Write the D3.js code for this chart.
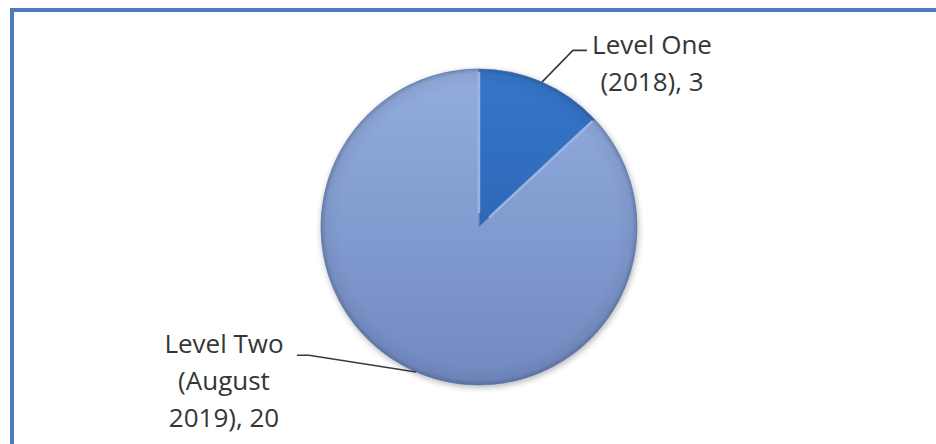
<!DOCTYPE html>
<html>
<head>
<meta charset="utf-8">
<script src="https://cdn.jsdelivr.net/npm/d3@7"></script>
<style>
  body { margin: 0; background: #fff; }
  svg { display: block; }
  .lbl { font-family: "Open Sans", sans-serif; font-size: 26px; fill: #363636; }
</style>
</head>
<body>
<div id="pie_chart"></div>
<script>
// data
const categories = ["Level One", "Level Two"];
const labelLines = [["Level One", "(2018), 3"], ["Level Two", "(August", "2019), 20"]];
const values = [3, 20];

(function pie_chart() {
    const width = 936,
        height = 444,
        cx = 479,
        cy = 227,
        radius = 158;

    const svg = d3.select("#pie_chart")
        .append("svg")
        .attr("width", width)
        .attr("height", height)
        .attr("viewBox", [0, 0, width, height]);

    const defs = svg.append("defs");

    // slice fills, light at top, darker toward bottom (local coords, centre at 0,0)
    const fills = [["#3676ca", "#2659a6"], ["#93addf", "#7189c0"]];
    fills.forEach((f, i) => {
        const g = defs.append("linearGradient")
            .attr("id", "fill" + i)
            .attr("gradientUnits", "userSpaceOnUse")
            .attr("x1", 0).attr("y1", -radius)
            .attr("x2", 0).attr("y2", radius);
        g.append("stop").attr("offset", "0%").attr("stop-color", f[0]);
        g.append("stop").attr("offset", "100%").attr("stop-color", f[1]);
    });

    // bevel rim
    const rim = defs.append("radialGradient")
        .attr("id", "rim")
        .attr("gradientUnits", "userSpaceOnUse")
        .attr("cx", 0).attr("cy", 0).attr("r", radius);
    rim.append("stop").attr("offset", "88%").attr("stop-color", "#000").attr("stop-opacity", 0);
    rim.append("stop").attr("offset", "97%").attr("stop-color", "#000").attr("stop-opacity", 0.05);
    rim.append("stop").attr("offset", "100%").attr("stop-color", "#000").attr("stop-opacity", 0.2);

    const shadow = defs.append("filter").attr("id", "shadow")
        .attr("x", "-20%").attr("y", "-20%").attr("width", "140%").attr("height", "140%");
    shadow.append("feGaussianBlur").attr("in", "SourceAlpha").attr("stdDeviation", 3);
    shadow.append("feOffset").attr("dx", 1).attr("dy", 2).attr("result", "b");
    shadow.append("feComponentTransfer").append("feFuncA").attr("type", "linear").attr("slope", 0.3);
    const merge = shadow.append("feMerge");
    merge.append("feMergeNode");
    merge.append("feMergeNode").attr("in", "SourceGraphic");

    // frame (runs off the right and bottom edges)
    svg.append("rect")
        .attr("x", 12)
        .attr("y", 10)
        .attr("width", width + 20)
        .attr("height", height + 20)
        .attr("fill", "none")
        .attr("stroke", "#4d7bbd")
        .attr("stroke-width", 4);

    const pie = d3.pie().sort(null).value(d => d);
    const arcs = pie(values);

    const arc = d3.arc().innerRadius(0).outerRadius(radius);

    const g = svg.append("g")
        .attr("transform", `translate(${cx},${cy})`)
        .attr("filter", "url(#shadow)");

    g.selectAll("path.slice")
        .data(arcs)
        .join("path")
        .attr("class", "slice")
        .attr("d", arc)
        .attr("fill", (d, i) => `url(#fill${i})`)
        .attr("stroke", "#6a86be")
        .attr("stroke-width", 0.8);

    g.append("circle")
        .attr("r", radius)
        .attr("fill", "url(#rim)");

    // light edge between slices
    arcs.forEach(d => {
        const a = d.endAngle;
        g.append("line")
            .attr("x1", Math.sin(a) * 14)
            .attr("y1", -Math.cos(a) * 14)
            .attr("x2", Math.sin(a) * (radius - 3))
            .attr("y2", -Math.cos(a) * (radius - 3))
            .attr("stroke", "#a9bfe8")
            .attr("stroke-width", 2.5)
            .attr("stroke-opacity", 0.8);
    });

    // leader lines and labels
    const elbow = [{ r: 200, a: 28, dx: 14, tx: 652, ty: 54 }, { r: 213, a: 233, dx: -12, tx: 224, ty: 353 }];

    arcs.forEach((d, i) => {
        const mid = (d.startAngle + d.endAngle) / 2;
        const e = elbow[i];
        const ea = e.a * Math.PI / 180;
        const p0 = [cx + Math.sin(mid) * radius, cy - Math.cos(mid) * radius];
        const p1 = [cx + Math.sin(ea) * e.r, cy - Math.cos(ea) * e.r];
        const p2 = [p1[0] + e.dx, p1[1]];

        svg.append("path")
            .attr("d", d3.line()([p0, p1, p2]))
            .attr("fill", "none")
            .attr("stroke", "#3a3a3a")
            .attr("stroke-width", 1.6);

        const t = svg.append("text")
            .attr("class", "lbl")
            .attr("text-anchor", "middle")
            .attr("x", e.tx)
            .attr("y", e.ty);
        labelLines[i].forEach((s, j) => {
            t.append("tspan")
                .attr("x", e.tx)
                .attr("dy", j === 0 ? 0 : 37)
                .text(s);
        });
    });
})();
</script>
</body>
</html>
